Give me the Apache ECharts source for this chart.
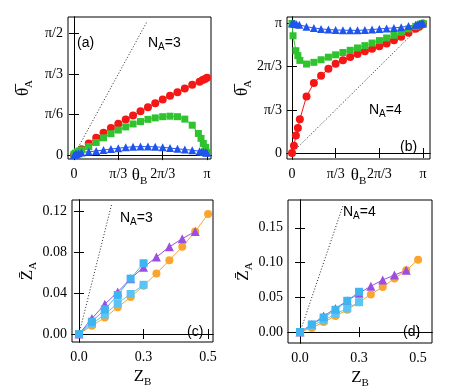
<!DOCTYPE html>
<html>
<head>
<meta charset="utf-8">
<script src="https://cdn.jsdelivr.net/npm/echarts@6/dist/echarts.min.js"></script>
<style>
html, body { margin: 0; padding: 0; background: #fff; }
#main { width: 463px; height: 392px; }
</style>
</head>
<body>
<div id="main"></div>
<script>
// angles are stored in units of pi
const aRedX = [0, 0.056, 0.111, 0.167, 0.222, 0.278, 0.333, 0.389, 0.444, 0.5, 0.556, 0.611, 0.667, 0.722, 0.778, 0.833, 0.889, 0.944, 0.967, 0.985, 1.0]
const aRedY = [0, 0.024, 0.048, 0.071, 0.092, 0.111, 0.129, 0.146, 0.163, 0.18, 0.197, 0.213, 0.229, 0.244, 0.259, 0.274, 0.289, 0.302, 0.309, 0.313, 0.318]
const aGreenX = [0, 0.01, 0.025, 0.04, 0.056, 0.111, 0.167, 0.222, 0.278, 0.333, 0.389, 0.444, 0.5, 0.556, 0.611, 0.667, 0.722, 0.778, 0.833, 0.889, 0.935, 0.955, 0.972, 0.99, 1.0]
const aGreenY = [0.003, 0.008, 0.013, 0.017, 0.021, 0.035, 0.052, 0.071, 0.088, 0.103, 0.116, 0.128, 0.138, 0.147, 0.153, 0.158, 0.16, 0.158, 0.148, 0.123, 0.089, 0.069, 0.048, 0.032, 0.012]
const aBlueX = [0, 0.01, 0.02, 0.035, 0.056, 0.111, 0.167, 0.222, 0.278, 0.333, 0.389, 0.444, 0.5, 0.556, 0.611, 0.667, 0.722, 0.778, 0.833, 0.889, 0.944, 0.96, 0.975, 0.99, 1.0]
const aBlueY = [0, 0.003, 0.005, 0.008, 0.011, 0.014, 0.017, 0.021, 0.025, 0.028, 0.032, 0.034, 0.035, 0.035, 0.034, 0.032, 0.029, 0.026, 0.023, 0.02, 0.016, 0.015, 0.013, 0.011, 0.01]

const bRedX = [0, 0.015, 0.03, 0.045, 0.06, 0.111, 0.167, 0.222, 0.278, 0.333, 0.389, 0.444, 0.5, 0.556, 0.611, 0.667, 0.722, 0.778, 0.833, 0.889, 0.944, 0.97, 0.985, 1.0]
const bRedY = [0, 0.057, 0.135, 0.193, 0.261, 0.437, 0.54, 0.597, 0.651, 0.69, 0.716, 0.742, 0.765, 0.785, 0.804, 0.824, 0.845, 0.87, 0.897, 0.928, 0.959, 0.975, 0.988, 1.0]
const bGreenX = [0, 0.008, 0.03, 0.045, 0.06, 0.111, 0.167, 0.222, 0.278, 0.333, 0.389, 0.444, 0.5, 0.556, 0.611, 0.667, 0.722, 0.778, 0.833, 0.889, 0.944, 0.97, 0.985, 1.0]
const bGreenY = [1.0, 0.905, 0.79, 0.752, 0.715, 0.687, 0.7, 0.72, 0.74, 0.758, 0.776, 0.793, 0.811, 0.829, 0.849, 0.868, 0.888, 0.909, 0.932, 0.958, 0.978, 0.988, 0.994, 1.0]
const bBlueX = [0, 0.01, 0.02, 0.035, 0.056, 0.111, 0.167, 0.222, 0.278, 0.333, 0.389, 0.444, 0.5, 0.556, 0.611, 0.667, 0.722, 0.778, 0.833, 0.889, 0.944, 0.96, 0.975, 0.99, 1.0]
const bBlueY = [1.0, 1.0, 0.998, 0.995, 0.99, 0.975, 0.965, 0.958, 0.953, 0.95, 0.948, 0.947, 0.947, 0.949, 0.953, 0.958, 0.962, 0.966, 0.971, 0.98, 0.99, 0.994, 0.997, 0.999, 1.0]

const zX = [0, 0.05, 0.1, 0.15, 0.2, 0.25, 0.3, 0.35, 0.4, 0.45, 0.5]
const cOrange = [0, 0.008, 0.016, 0.026, 0.036, 0.047, 0.059, 0.072, 0.085, 0.1, 0.117]
const cPurple = [0, 0.015, 0.029, 0.041, 0.054, 0.065, 0.075, 0.085, 0.093, 0.1]
const cSkyUp = [0, 0.012, 0.024, 0.038, 0.054, 0.069]
const cSkyLow = [0, 0.01, 0.019, 0.03, 0.039, 0.048]
const dOrange = [0, 0.006, 0.0145, 0.023, 0.032, 0.043, 0.054, 0.065, 0.077, 0.089, 0.104]
const dPurple = [0, 0.011, 0.023, 0.034, 0.045, 0.056, 0.066, 0.075, 0.082, 0.089]
const dSkyUp = [0, 0.011, 0.021, 0.032, 0.045, 0.058]
const dSkyLow = [0, 0.009, 0.017, 0.026, 0.034, 0.043]

// dotted diagonal y = x, end points per panel
const diagEnd = [0.55, 1.0, 0.126, 0.181]

const angTicks = [0, 1 / 3, 2 / 3, 1]
const angLabels = ['0', 'π/3', '2π/3', 'π']
const aYTicks = [0, 1 / 6, 1 / 3, 1 / 2]
const aYLabels = ['0', 'π/6', 'π/3', 'π/2']
const zTicks = [0, 0.25, 0.5]
const zLabels = ['0.0', '0.3', '0.5']
const cYTicks = [0, 0.04, 0.08, 0.12]
const cYLabels = ['0.00', '0.04', '0.08', '0.12']
const dYTicks = [0, 0.05, 0.1, 0.15]
const dYLabels = ['0.00', '0.05', '0.10', '0.15']

const serif = 'Liberation Serif'
const sans = 'Liberation Sans'
const nameRich = {
  m: { fontFamily: serif, fontSize: 17, lineHeight: 22, color: '#000' },
  s: { fontFamily: serif, fontSize: 11, lineHeight: 8, verticalAlign: 'bottom', color: '#000' }
}

function pairs(xs, ys) {
  return ys.map((y, i) => [xs[i], y])
}

const xAxes = []
const yAxes = []
function addAxes(grid, xr, yr, xt, xl, yt, yl, xName, yName, xGap) {
  const tick = { show: true, inside: true, length: 5, lineStyle: { color: '#000' } }
  const line = { show: true, lineStyle: { color: '#000', width: 1 } }
  const lab = (ticks, labels, margin) => ({
    customValues: ticks,
    margin: margin,
    fontFamily: serif,
    fontSize: 14,
    color: '#000',
    formatter: v => labels[ticks.findIndex(t => Math.abs(t - v) < 1e-6)]
  })
  xAxes.push({
    type: 'value', gridIndex: grid, position: 'bottom', min: xr[0], max: xr[1],
    axisLine: line, axisTick: Object.assign({ customValues: xt }, tick),
    axisLabel: lab(xt, xl, 8), splitLine: { show: false },
    name: xName, nameLocation: 'middle', nameGap: xGap, nameMoveOverlap: false,
    nameTextStyle: { rich: nameRich }
  })
  xAxes.push({
    type: 'value', gridIndex: grid, position: 'top', min: xr[0], max: xr[1],
    axisLine: line, axisTick: Object.assign({ customValues: xt }, tick),
    axisLabel: { show: false }, splitLine: { show: false }
  })
  yAxes.push({
    type: 'value', gridIndex: grid, position: 'left', min: yr[0], max: yr[1],
    axisLine: line, axisTick: Object.assign({ customValues: yt }, tick),
    axisLabel: lab(yt, yl, 5), splitLine: { show: false },
    name: yName, nameLocation: 'middle', nameGap: 33, nameRotate: 90, nameMoveOverlap: false,
    nameTextStyle: { rich: nameRich }
  })
  yAxes.push({
    type: 'value', gridIndex: grid, position: 'right', min: yr[0], max: yr[1],
    axisLine: line, axisTick: Object.assign({ customValues: yt }, tick),
    axisLabel: { show: false }, splitLine: { show: false }
  })
}

addAxes(0, [-0.045, 1.03], [-0.016, 0.568], angTicks, angLabels, aYTicks, aYLabels, '{m|θ}{s|B}', '{m|θ\u0305}{s|A}', 6)
addAxes(1, [-0.038, 1.053], [-0.046, 1.05], angTicks, angLabels, angTicks, angLabels, '{m|θ}{s|B}', '{m|θ\u0305}{s|A}', 6)
addAxes(2, [-0.027, 0.519], [-0.0078, 0.1307], zTicks, zLabels, cYTicks, cYLabels, '{m|Z}{s|B}', '{m|Z\u0304}{s|A}', 24)
addAxes(3, [-0.051, 0.559], [-0.0157, 0.19], zTicks, zLabels, dYTicks, dYLabels, '{m|Z}{s|B}', '{m|Z\u0304}{s|A}', 24)

function series(grid, data, color, symbol, size) {
  return {
    type: 'line', xAxisIndex: grid * 2, yAxisIndex: grid * 2, data: data,
    symbol: symbol, symbolSize: size, showSymbol: true,
    lineStyle: { color: color, width: 1 }, itemStyle: { color: color },
    emphasis: { disabled: true }, animation: false
  }
}
function diag(grid) {
  return {
    type: 'line', xAxisIndex: grid * 2, yAxisIndex: grid * 2,
    data: [[0, 0], [diagEnd[grid], diagEnd[grid]]], symbol: 'none',
    lineStyle: { color: '#222', width: 1, type: [1, 2] }, animation: false
  }
}

const red = '#f51616'
const green = '#2fc42f'
const blue = '#1f55ee'
const orange = '#fba52e'
const purple = '#9a4fe0'
const sky = '#3fb4f0'
const sky2 = '#5cc4f4'

const allSeries = [
  diag(0),
  series(0, pairs(aRedX, aRedY), red, 'circle', 8),
  series(0, pairs(aGreenX, aGreenY), green, 'rect', 7),
  series(0, pairs(aBlueX, aBlueY), blue, 'triangle', 8),
  diag(1),
  series(1, pairs(bRedX, bRedY), red, 'circle', 8),
  series(1, pairs(bGreenX, bGreenY), green, 'rect', 7),
  series(1, pairs(bBlueX, bBlueY), blue, 'triangle', 8),
  diag(2),
  series(2, pairs(zX, cOrange), orange, 'circle', 8),
  series(2, pairs(zX, cPurple), purple, 'triangle', 9),
  series(2, pairs(zX, cSkyLow), sky2, 'rect', 8),
  series(2, pairs(zX, cSkyUp), sky, 'rect', 8),
  diag(3),
  series(3, pairs(zX, dOrange), orange, 'circle', 8),
  series(3, pairs(zX, dPurple), purple, 'triangle', 9),
  series(3, pairs(zX, dSkyLow), sky2, 'rect', 8),
  series(3, pairs(zX, dSkyUp), sky, 'rect', 8)
]

const noteRich = {
  n: { fontFamily: sans, fontSize: 14, lineHeight: 18, fill: '#000' },
  s: { fontFamily: sans, fontSize: 10, lineHeight: 8, verticalAlign: 'bottom', fill: '#000' }
}
function note(x, y, text) {
  return {
    type: 'text', x: x, y: y,
    style: { text: text, rich: noteRich, fill: '#000', verticalAlign: 'middle', font: '14px ' + sans }
  }
}

const chart = echarts.init(document.getElementById('main'))
chart.setOption({
  backgroundColor: '#fff',
  animation: false,
  grid: [
    { left: 68, top: 17, width: 143, height: 142, show: true, borderColor: '#000', borderWidth: 1 },
    { left: 287, top: 17, width: 143, height: 142, show: true, borderColor: '#000', borderWidth: 1 },
    { left: 72, top: 200, width: 141, height: 142, show: true, borderColor: '#000', borderWidth: 1 },
    { left: 288, top: 200, width: 144, height: 143, show: true, borderColor: '#000', borderWidth: 1 }
  ],
  xAxis: xAxes,
  yAxis: yAxes,
  series: allSeries,
  graphic: [
    note(77, 43, '{n|(a)}'),
    note(148, 43, '{n|N}{s|A}{n|=3}'),
    note(369, 110, '{n|N}{s|A}{n|=4}'),
    note(400, 147, '{n|(b)}'),
    note(120, 218, '{n|N}{s|A}{n|=3}'),
    note(187, 332, '{n|(c)}'),
    note(343, 212, '{n|N}{s|A}{n|=4}'),
    note(403, 332, '{n|(d)}')
  ]
})
</script>
</body>
</html>
